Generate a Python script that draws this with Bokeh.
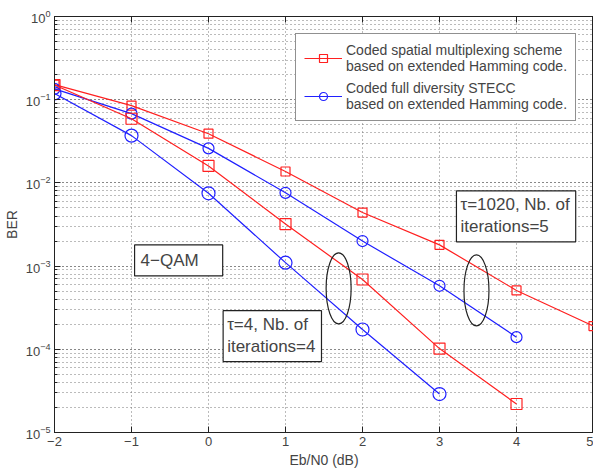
from bokeh.plotting import figure
from bokeh.models import Legend, LegendItem, Label, LinearAxis, FixedTicker, Range1d
from bokeh.embed import file_html
from bokeh.resources import INLINE

# ---- data ----
snr_sm_1020 = [-2, -1, 0, 1, 2, 3, 4, 5]
ber_sm_1020 = [0.152, 0.085, 0.039, 0.0137, 0.0044, 0.0018, 5.1e-4, 1.9e-4]
snr_fd_1020 = [-2, -1, 0, 1, 2, 3, 4]
ber_fd_1020 = [0.135, 0.068, 0.026, 0.0076, 0.0020, 5.8e-4, 1.4e-4]
snr_sm_4 = [-2, -1, 0, 1, 2, 3, 4]
ber_sm_4 = [0.150, 0.059, 0.016, 0.0032, 6.9e-4, 1.02e-4, 2.2e-5]
snr_fd_4 = [-2, -1, 0, 1, 2, 3]
ber_fd_4 = [0.119, 0.037, 0.0075, 0.0011, 1.73e-4, 2.9e-5]

label_sm = "Coded spatial multiplexing scheme\nbased on extended Hamming code."
label_fd = "Coded full diversity STECC\nbased on extended Hamming code."
x_ticks = [-2, -1, 0, 1, 2, 3, 4, 5]

FONT = "Liberation Sans"
RED = "#ff2020"
BLUE = "#2020ff"
DARK = "#222222"

p = figure(frame_width=539, frame_height=416, output_backend="svg", toolbar_location=None,
           y_axis_type="log", x_range=Range1d(-2, 5), y_range=Range1d(1e-5, 1),
           min_border_left=44, min_border_right=0, min_border_top=16, min_border_bottom=34)
p.background_fill_color = "white"
p.border_fill_color = "white"
p.outline_line_color = DARK
p.outline_line_width = 1

# axes
p.xaxis.ticker = FixedTicker(ticks=x_ticks)
p.xaxis.axis_label = "Eb/N0 (dB)"
p.yaxis.axis_label = "BER"
for ax in (p.xaxis[0], p.yaxis[0]):
    ax.axis_label_text_font = FONT
    ax.axis_label_text_font_style = "normal"
    ax.axis_label_text_font_size = "14px"
    ax.major_label_text_font = FONT
    ax.major_label_text_font_size = "13px"
    ax.major_tick_in = 6
    ax.major_tick_out = 0
    ax.minor_tick_in = 3
    ax.minor_tick_out = 0
    ax.axis_line_color = DARK
    ax.major_tick_line_color = DARK
    ax.minor_tick_line_color = DARK
    ax.major_label_standoff = 4
    ax.axis_label_standoff = 3

top = LinearAxis(ticker=FixedTicker(ticks=x_ticks), major_label_text_font_size="0px",
                 major_tick_in=6, major_tick_out=0, axis_line_color=DARK,
                 major_tick_line_color=DARK, major_label_standoff=0)
p.add_layout(top, "above")

# grids
p.xgrid.grid_line_color = "#777777"
p.xgrid.grid_line_dash = "1 3"
p.ygrid.grid_line_color = "#777777"
p.ygrid.grid_line_dash = "1 3"
p.ygrid.minor_grid_line_color = "#777777"
p.ygrid.minor_grid_line_dash = "1 3"

# series
l1 = p.line(snr_sm_1020, ber_sm_1020, line_color=RED, line_width=1.2)
m1 = p.scatter(snr_sm_1020, ber_sm_1020, marker="square", size=9, line_color=RED, fill_color=None, line_width=1.2)
l2 = p.line(snr_fd_1020, ber_fd_1020, line_color=BLUE, line_width=1.2)
m2 = p.scatter(snr_fd_1020, ber_fd_1020, marker="circle", size=11, line_color=BLUE, fill_color=None, line_width=1.2)
p.line(snr_sm_4, ber_sm_4, line_color=RED, line_width=1.2)
p.scatter(snr_sm_4, ber_sm_4, marker="square", size=11, line_color=RED, fill_color=None, line_width=1.2)
p.line(snr_fd_4, ber_fd_4, line_color=BLUE, line_width=1.2)
p.scatter(snr_fd_4, ber_fd_4, marker="circle", size=13, line_color=BLUE, fill_color=None, line_width=1.2)

legend = Legend(items=[LegendItem(label=label_sm, renderers=[l1, m1]),
                       LegendItem(label=label_fd, renderers=[l2, m2])],
                location=(241, 311), label_text_font=FONT, label_text_font_size="14px",
                border_line_color=DARK, border_line_width=1.2, glyph_width=38,
                label_standoff=4, padding=8, spacing=6, margin=0,
                background_fill_alpha=1.0, label_text_line_height=1.25)
p.add_layout(legend, "center")

# ellipses
p.ellipse(x=[1.69, 3.48], y=[5.4e-4, 5.1e-4], width=25, height=71,
          width_units="screen", height_units="screen",
          fill_color=None, line_color=DARK, line_width=1.2)

# text boxes
def box(x, y, text, pad):
    lab = Label(x=x, y=y, text=text, text_font=FONT, text_font_size="17px",
                text_align="left", text_baseline="middle",
                border_line_color=DARK, border_line_width=1.2,
                background_fill_color="white", padding=pad, text_line_height=1.15)
    p.add_layout(lab)

box(-0.96, 1.17e-3, "4\u2212QAM", (6, 24, 6, 6))
box(0.19, 1.44e-4, "\u03c4=4, Nb. of\niterations=4", (4, 6, 4, 6))
box(3.22, 3.96e-3, "\u03c4=1020, Nb. of\niterations=5", (4, 6, 4, 6))

open("out.html", "w").write(file_html(p, INLINE))
